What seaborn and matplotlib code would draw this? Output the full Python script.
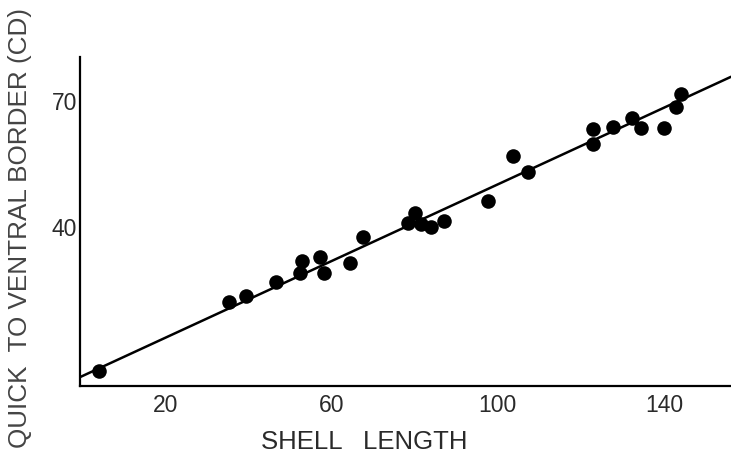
import matplotlib
matplotlib.use("Agg")
import matplotlib.pyplot as plt
import seaborn as sns
import numpy as np
import pandas as pd

# Data
shell_length = [4.2, 35.3, 39.4, 46.7, 53.0, 52.4, 57.2, 58.3, 64.4, 67.5,
                 78.5, 80.1, 81.5, 83.9, 87.1, 97.7, 103.6, 107.2, 123.0, 123.0,
                 127.6, 132.2, 134.4, 140.0, 142.8, 144.0]
quick_to_ventral = [5.4, 21.8, 23.3, 26.6, 31.8, 28.9, 32.8, 28.8, 31.3, 37.4,
                    40.8, 43.2, 40.6, 40.0, 41.4, 46.2, 56.9, 53.0, 63.4, 59.8,
                    63.8, 66.1, 63.7, 63.7, 68.7, 71.7]
line_intercept = 4.1
line_slope = 0.46
x_ticks = [20, 60, 100, 140]
y_ticks = [40, 70]

sns.set_theme(style="white")
plt.rcParams['font.family'] = ['Liberation Sans', 'DejaVu Sans']

fig = plt.figure(figsize=(7.31, 4.57), dpi=100)
ax = fig.add_axes([80/731, 1 - 386/457, 1 - 80/731, (386 - 57)/457])

xmin, xmax = -0.48, 156.1
ymin, ymax = 1.75, 80.65

df = pd.DataFrame({"x": shell_length, "y": quick_to_ventral})
sns.scatterplot(data=df, x="x", y="y", ax=ax, color="black", s=110,
                edgecolor="black", linewidth=0, zorder=3)

lx = np.array([-1.0, xmax])
ly = line_intercept + line_slope * lx
sns.lineplot(x=lx, y=ly, ax=ax, color="black", linewidth=1.8, zorder=2)

ax.set_xlim(xmin, xmax)
ax.set_ylim(ymin, ymax)
ax.set_xticks(x_ticks)
ax.set_yticks(y_ticks)
ax.set_xticklabels([str(t) for t in x_ticks], fontsize=16.5)
ax.set_yticklabels([str(t) for t in y_ticks], fontsize=16.5)
ax.tick_params(axis="both", length=0, colors="#2a2a2a")
ax.tick_params(axis="x", pad=6)
ax.tick_params(axis="y", pad=2)

for side in ["top", "right"]:
    ax.spines[side].set_visible(False)
for side in ["left", "bottom"]:
    ax.spines[side].set_color("black")
    ax.spines[side].set_linewidth(1.6)

ax.set_xlabel("")
ax.set_ylabel("")
fig.text(364/731, 1 - 442/457, "SHELL   LENGTH", ha="center", va="center",
         fontsize=18.5, color="#2a2a2a")
fig.text(20/731, 1 - 228/457, "QUICK  TO VENTRAL BORDER (CD)", rotation=90,
         ha="center", va="center", fontsize=18.8, color="#444444")

fig.savefig("out.png", dpi=100, facecolor="white")
